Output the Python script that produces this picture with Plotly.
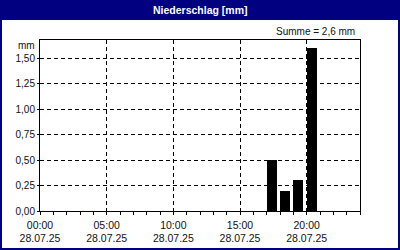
import plotly.graph_objects as go

# ---- data ----
bar_hours = [17, 18, 19, 20]          # start hour of each interval on 28.07.25
precip_mm = [0.50, 0.20, 0.30, 1.60]
x_tick_hours = [0, 5, 10, 15, 20]
x_tick_labels = ["00:00<br>28.07.25", "05:00<br>28.07.25", "10:00<br>28.07.25",
                 "15:00<br>28.07.25", "20:00<br>28.07.25"]
y_tick_vals = [0, 0.25, 0.5, 0.75, 1.0, 1.25, 1.5]
y_tick_labels = ["0,00", "0,25", "0,50", "0,75", "1,00", "1,25", "1,50"]
title_text = "Niederschlag [mm]"
unit_text = "mm"

W, H = 400, 250
ML, MR, MT, MB = 40, 40, 40, 39
PW, PH = W - ML - MR, H - MT - MB

def px_x(px):
    return (px - ML) / PW

def px_y(py):
    return (H - MB - py) / PH

NAVY = "#000080"
FONT = "Liberation Sans"

total = sum(precip_mm)
summe_text = "Summe = " + f"{total:.1f}".replace(".", ",") + " mm"

fig = go.Figure()
fig.add_trace(go.Bar(
    x=bar_hours, y=precip_mm, offset=0, width=0.75,
    marker=dict(color="black", line=dict(width=0)),
    hoverinfo="skip",
))

fig.update_layout(
    width=W, height=H,
    margin=dict(l=ML, r=MR, t=MT, b=MB, autoexpand=False),
    paper_bgcolor="white", plot_bgcolor="white",
    showlegend=False,
    font=dict(family=FONT, size=10, color="#111111"),
    bargap=0,
)

fig.update_xaxes(
    range=[0, 24], tickmode="array", tickvals=x_tick_hours, ticktext=x_tick_labels,
    showgrid=True, gridcolor="black", gridwidth=1, griddash="4px,3px",
    showline=True, linecolor="black", linewidth=1, mirror=True,
    ticks="outside", ticklen=3, tickcolor="black", tickwidth=1,
    minor=dict(dtick=1, tick0=0, ticks="outside", ticklen=3, tickcolor="black", showgrid=False),
    zeroline=False, tickfont=dict(size=10.5, family=FONT), automargin=False,
    ticklabelstandoff=1,
)
fig.update_yaxes(
    range=[0, 1.68], tickmode="array", tickvals=y_tick_vals, ticktext=y_tick_labels,
    showgrid=True, gridcolor="black", gridwidth=1, griddash="4px,3px",
    showline=True, linecolor="black", linewidth=1, mirror=True,
    ticks="outside", ticklen=2, tickcolor="black",
    zeroline=False, tickfont=dict(size=10, family=FONT), automargin=False,
)

shapes = [
    # title bar
    dict(type="rect", xref="paper", yref="paper",
         x0=px_x(0), x1=px_x(W), y0=px_y(20), y1=px_y(0),
         fillcolor=NAVY, line=dict(width=0), layer="above"),
    # outer frame
    dict(type="rect", xref="paper", yref="paper",
         x0=px_x(1), x1=px_x(W - 1), y0=px_y(H - 1), y1=px_y(0),
         fillcolor="rgba(0,0,0,0)", line=dict(width=2, color=NAVY), layer="above"),
]
fig.update_layout(shapes=shapes)

fig.add_annotation(text="<b>" + title_text + "</b>", xref="paper", yref="paper",
                   x=px_x(W / 2), y=px_y(10), xanchor="center", yanchor="middle",
                   showarrow=False, font=dict(color="white", size=10.5, family=FONT))
fig.add_annotation(text=summe_text, xref="paper", yref="paper",
                   x=px_x(357), y=px_y(31), xanchor="right", yanchor="middle",
                   showarrow=False, font=dict(size=10, family=FONT))
fig.add_annotation(text=unit_text, xref="paper", yref="paper",
                   x=px_x(37), y=px_y(45), xanchor="right", yanchor="middle",
                   showarrow=False, font=dict(size=10, family=FONT))

fig.write_html("out.html")
